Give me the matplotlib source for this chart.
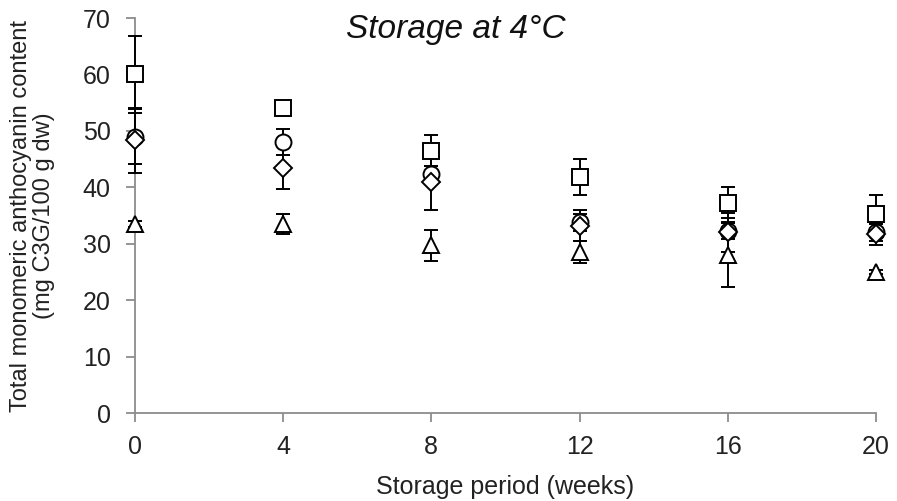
import numpy as np
import matplotlib.pyplot as plt

plt.rcParams['font.family'] = ['Liberation Sans', 'DejaVu Sans']

weeks = [0, 4, 8, 12, 16, 20]

square = [60.0, 54.0, 46.5, 41.8, 37.3, 35.3]
square_err = [6.8, 0.5, 2.7, 3.2, 2.7, 3.4]

circle = [49.0, 48.0, 42.3, 33.8, 32.3, 32.0]
circle_err = [4.8, 2.3, 1.5, 1.5, 1.5, 1.5]

diamond = [48.3, 43.5, 41.0, 33.2, 32.0, 31.7]
diamond_err = [5.7, 3.8, 5.0, 2.7, 3.5, 2.0]

triangle = [33.5, 33.5, 29.7, 28.5, 28.0, 25.0]
triangle_err = [0.5, 1.8, 2.7, 2.0, 5.7, 0.3]

fig = plt.figure(figsize=(8.97, 5.01), dpi=100)
ax = fig.add_axes([0.1505, 0.1756, 0.826, 0.7884])

series = [
    (triangle, triangle_err, '^', 12),
    (square, square_err, 's', 11.5),
    (circle, circle_err, 'o', 11.5),
    (diamond, diamond_err, 'D', 9.5),
]
for vals, err, m, ms in series:
    ax.errorbar(weeks, vals, yerr=err, fmt=m, ms=ms, mfc='white', mec='black',
                mew=1.4, ecolor='black', elinewidth=1.4, capsize=5, capthick=1.4,
                clip_on=False, zorder=3)

ax.set_xlim(0, 20)
ax.set_ylim(0, 70)
ax.set_xticks(weeks)
ax.set_yticks(range(0, 71, 10))

for s in ['top', 'right']:
    ax.spines[s].set_visible(False)
for s in ['left', 'bottom']:
    ax.spines[s].set_color('#8c8c8c')
    ax.spines[s].set_linewidth(1.3)
ax.tick_params(axis='both', direction='out', length=6.5, width=1.3, color='#8c8c8c',
               labelsize=18, labelcolor='#222222')
ax.tick_params(axis='x', pad=9)
ax.tick_params(axis='y', pad=11)

ax.set_xlabel('Storage period (weeks)', fontsize=18, color='#222222', labelpad=12)
ax.set_ylabel('Total monomeric anthocyanin content\n(mg C3G/100 g dw)', fontsize=17,
              color='#222222', labelpad=20, linespacing=1.05)
ax.text(0.433, 0.97, 'Storage at 4°C', transform=ax.transAxes, ha='center', va='center',
        fontsize=24, style='italic', color='#111111')

fig.savefig('out.png', dpi=100)
